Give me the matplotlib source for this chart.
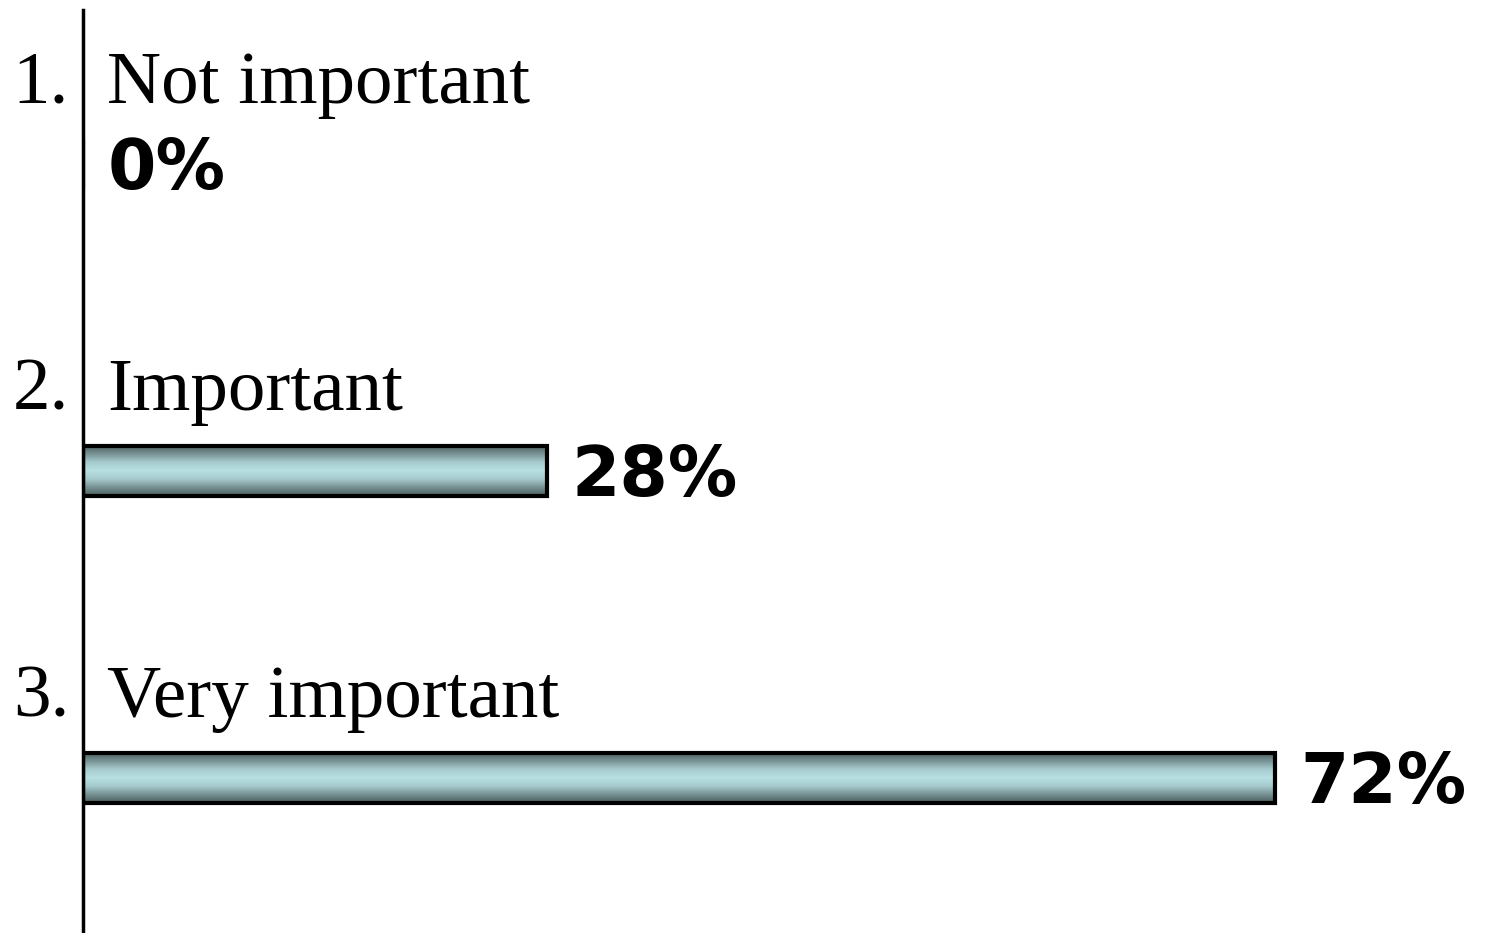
import numpy as np
import matplotlib
matplotlib.use('Agg')
import matplotlib.pyplot as plt
from matplotlib import transforms
from matplotlib.colors import LinearSegmentedColormap

# data
numbers = ['1.', '2.', '3.']
categories = ['Not important', 'Important', 'Very important']
percents = [0, 28, 72]

fig = plt.figure(figsize=(14.87, 9.33), dpi=100)
ax = fig.add_axes([83 / 1487, 0, 1 - 83 / 1487, 923 / 933])

ypos = np.arange(len(categories))
bars = ax.barh(ypos, percents, height=0.163, facecolor='none',
               edgecolor='black', linewidth=3, zorder=3)

# gradient fill for the bars (dark edges, light middle)
cmap = LinearSegmentedColormap.from_list(
    'bar', ['#4a5c5d', '#789294', '#a6cbce', '#b8e0e3',
            '#a6cbce', '#789294', '#4a5c5d'])
grad = np.linspace(0, 1, 100).reshape(-1, 1)
for b in bars:
    if b.get_width() <= 0:
        continue
    x0, y0 = b.get_x(), b.get_y()
    ax.imshow(grad, cmap=cmap, aspect='auto', zorder=2,
              extent=[x0, x0 + b.get_width(), y0 + b.get_height(), y0],
              interpolation='bilinear')

ax.set_xlim(0, 84.8)
ax.set_ylim(2.505, -0.502)

serif = ['Liberation Serif', 'DejaVu Serif']
trans = transforms.blended_transform_factory(fig.transFigure, ax.transData)
for i, (num, cat, p) in enumerate(zip(numbers, categories, percents)):
    ax.text(0.0465, i - 0.2, num, transform=trans, ha='right', va='baseline',
            fontsize=54, family=serif)
    ax.text(1.45, i - 0.2, cat, ha='left', va='baseline',
            fontsize=54, family=serif)
    ax.text(p + 1.5, i + 0.082, f'{p}%', ha='left', va='baseline',
            fontsize=50, fontweight='bold', family='DejaVu Sans')

for s in ['top', 'right', 'bottom']:
    ax.spines[s].set_visible(False)
ax.spines['left'].set_linewidth(2.5)
ax.set_xticks([])
ax.set_yticks([])

fig.savefig('out.png', dpi=100)
